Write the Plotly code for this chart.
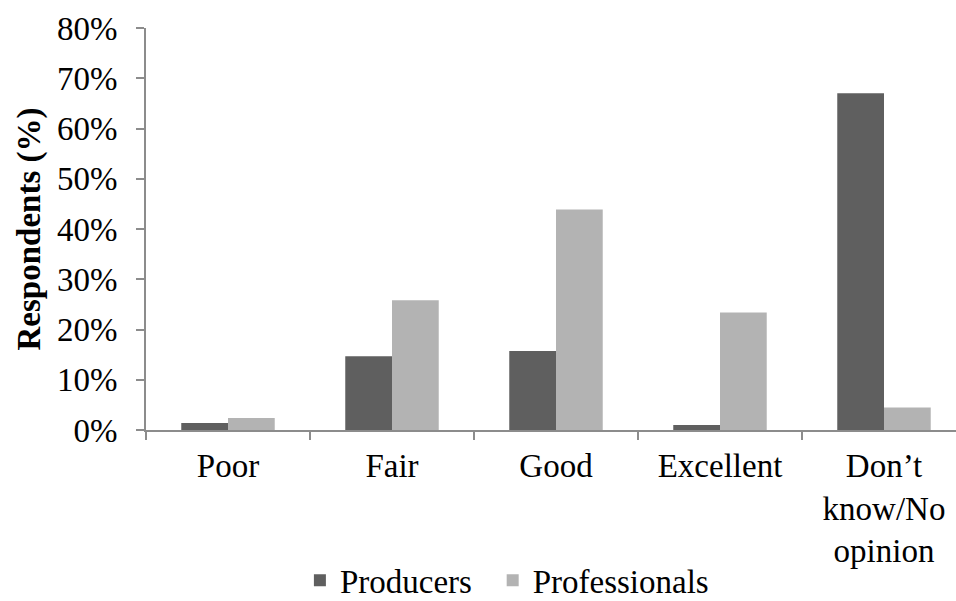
import plotly.graph_objects as go

# Survey ratings by respondent group
categories = ["Poor", "Fair", "Good", "Excellent", "Don’t<br>know/No<br>opinion"]
producers = [1.4, 14.7, 15.7, 1.0, 67.0]
professionals = [2.4, 25.8, 43.9, 23.4, 4.5]
y_ticks = [0, 10, 20, 30, 40, 50, 60, 70, 80]
y_tick_labels = [f"{v}%" for v in y_ticks]

FONT = "Times New Roman, Liberation Serif, DejaVu Serif, serif"
AXIS_GREY = "#8c8c8c"

fig = go.Figure()
fig.add_trace(go.Bar(name="Producers", x=categories, y=producers, legend="legend",
                     marker=dict(color="#5f5f5f", line=dict(width=0))))
fig.add_trace(go.Bar(name="Professionals", x=categories, y=professionals, legend="legend2",
                     marker=dict(color="#b3b3b3", line=dict(width=0))))

legend_style = dict(orientation="h", xanchor="left", y=-0.374, yanchor="middle",
                    font=dict(family=FONT, size=33), itemwidth=30,
                    bgcolor="rgba(0,0,0,0)")

fig.update_layout(
    width=956, height=601,
    margin=dict(l=146, r=0, t=28, b=171, autoexpand=False),
    paper_bgcolor="white", plot_bgcolor="white",
    font=dict(family=FONT, size=33, color="black"),
    barmode="group", bargap=0.43, bargroupgap=0,
    showlegend=True,
    legend=dict(x=0.190, **legend_style),
    legend2=dict(x=0.428, **legend_style),
)
fig.update_xaxes(
    type="category", range=[-0.5, 4.439], automargin=False,
    showline=True, linecolor=AXIS_GREY, linewidth=2,
    ticks="outside", tickson="boundaries", ticklen=8, tickwidth=2, tickcolor=AXIS_GREY,
    ticklabelstandoff=5,
    showgrid=False, tickfont=dict(family=FONT, size=33), fixedrange=True,
)
fig.update_yaxes(
    range=[0, 80], tickvals=y_ticks, ticktext=y_tick_labels, automargin=False,
    showline=True, linecolor=AXIS_GREY, linewidth=2,
    ticks="outside", ticklen=8, tickwidth=2, tickcolor=AXIS_GREY,
    ticklabelstandoff=12,
    showgrid=False, zeroline=False, tickfont=dict(family=FONT, size=33),
    title=dict(text="<b>Respondents (%)</b>", font=dict(family=FONT, size=33), standoff=6),
)

fig.write_html("out.html")
